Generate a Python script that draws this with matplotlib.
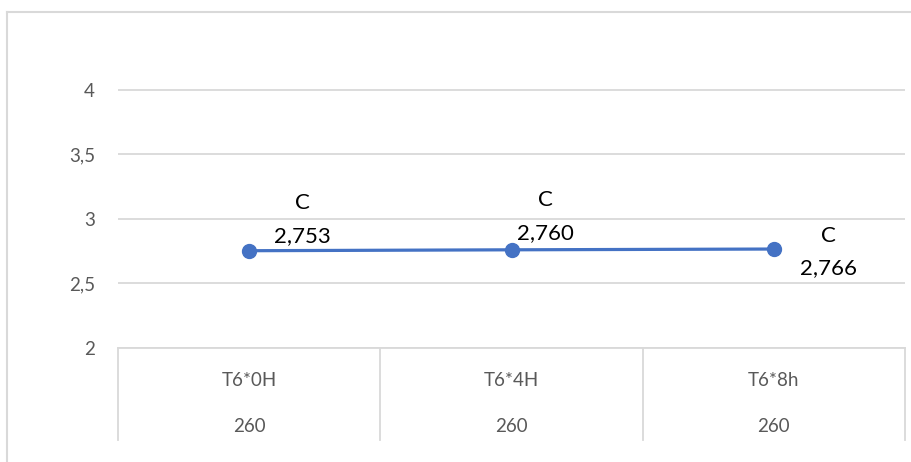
import matplotlib.pyplot as plt
from matplotlib.lines import Line2D

# Chart data
categories = ["T6*0H", "T6*4H", "T6*8h"]
sub_labels = ["260", "260", "260"]
values = [2.753, 2.760, 2.766]
groups = ["C", "C", "C"]
y_ticks = [2, 2.5, 3, 3.5, 4]

# Label offsets in pixels (style only)
label_offsets = [(53, 31), (34, 33), (55, -3)]

plt.rcParams["font.family"] = ["Lato", "DejaVu Sans"]

W, H = 911, 462
fig = plt.figure(figsize=(W / 100, H / 100), dpi=100)

# Outer chart border (only left/top visible in crop)
border = "#d9d9d9"
fig.add_artist(Line2D([7 / W, 7 / W], [0, 1 - 12 / H], color=border, lw=1.5))
fig.add_artist(Line2D([7 / W, 1], [1 - 12 / H, 1 - 12 / H], color=border, lw=1.5))

left, right = 118 / W, 905 / W
bottom, top = 1 - 348 / H, 1 - 25 / H
ax = fig.add_axes([left, bottom, right - left, top - bottom])

x = list(range(len(categories)))
ax.plot(x, values, color="#4472C4", lw=2.3, marker="o", markersize=10, zorder=3)

ax.set_xlim(-0.5, len(categories) - 0.5)
ax.set_ylim(2, 4.5)
ax.set_yticks(y_ticks)
ax.set_yticklabels([f"{t:g}".replace(".", ",") for t in y_ticks])
ax.tick_params(axis="y", length=0, pad=16.5, labelsize=13.5, labelcolor="#595959")
ax.set_xticks([])
ax.grid(axis="y", color="#d9d9d9", lw=1.3)
ax.set_axisbelow(True)
for s in ["top", "right", "left"]:
    ax.spines[s].set_visible(False)
ax.spines["bottom"].set_color("#d9d9d9")
ax.spines["bottom"].set_linewidth(1.3)

# Data labels
for xi, v, g, off in zip(x, values, groups, label_offsets):
    ax.annotate(f"{g}\n{v:.3f}".replace(".", ","), (xi, v), xytext=off,
                textcoords="offset pixels", ha="center", va="center",
                fontsize=16, color="black", linespacing=1.8)

# Multi-level category axis
axh = top - bottom
box_bottom = -92 / (axh * H)
trans = ax.get_xaxis_transform()
for b in [i - 0.5 for i in range(len(categories) + 1)]:
    ax.add_line(Line2D([b, b], [0, box_bottom], transform=trans, color="#d9d9d9",
                       lw=1.3, clip_on=False))
for xi, cat, sub in zip(x, categories, sub_labels):
    ax.text(xi, -32 / (axh * H), cat, transform=trans, ha="center", va="center",
            fontsize=13.5, color="#595959")
    ax.text(xi, -78 / (axh * H), sub, transform=trans, ha="center", va="center",
            fontsize=13.5, color="#595959")

fig.savefig("out.png", dpi=100)
